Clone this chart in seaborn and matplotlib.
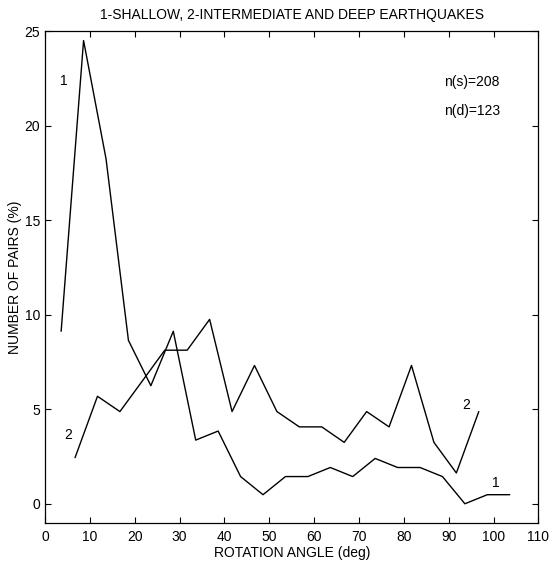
import matplotlib
matplotlib.use("Agg")
import matplotlib.pyplot as plt
import seaborn as sns
import pandas as pd

# Rotation-angle histograms (percent of pairs per 5-degree bin)
angle_shallow = [3.6, 8.6, 13.6, 18.6, 23.6, 28.6, 33.6, 38.6, 43.6, 48.6, 53.6,
                 58.6, 63.6, 68.6, 73.6, 78.6, 83.6, 88.6, 93.6, 98.6, 103.6]
pct_shallow = [9.13, 24.52, 18.27, 8.65, 6.25, 9.13, 3.37, 3.85, 1.44, 0.48, 1.44,
               1.44, 1.92, 1.44, 2.40, 1.92, 1.92, 1.44, 0.00, 0.48, 0.48]

angle_deep = [6.7, 11.7, 16.7, 21.7, 26.7, 31.7, 36.7, 41.7, 46.7, 51.7,
              56.7, 61.7, 66.7, 71.7, 76.7, 81.7, 86.7, 91.7, 96.7]
pct_deep = [2.44, 5.69, 4.88, 6.50, 8.13, 8.13, 9.76, 4.88, 7.32, 4.88,
            4.07, 4.07, 3.25, 4.88, 4.07, 7.32, 3.25, 1.63, 4.88]

x_ticks = [0, 10, 20, 30, 40, 50, 60, 70, 80, 90, 100, 110]
y_ticks = [0, 5, 10, 15, 20, 25]

sns.set_theme(style="ticks")
plt.rcParams["font.family"] = ["Liberation Sans", "DejaVu Sans"]
plt.rcParams["text.color"] = "black"
plt.rcParams["axes.labelcolor"] = "black"

FS = 10

fig = plt.figure(figsize=(5.5, 5.62), dpi=100)
ax = fig.add_axes([0.0818, 0.070, 0.8972, 0.874])

df_s = pd.DataFrame({"angle": angle_shallow, "pct": pct_shallow})
df_d = pd.DataFrame({"angle": angle_deep, "pct": pct_deep})
sns.lineplot(data=df_s, x="angle", y="pct", ax=ax, color="black", lw=1.0)
sns.lineplot(data=df_d, x="angle", y="pct", ax=ax, color="black", lw=1.0)

ax.set_xlim(0, 110)
ax.set_ylim(-1, 25)
ax.set_xticks(x_ticks)
ax.set_yticks(y_ticks)
ax.tick_params(direction="in", length=4, width=0.8, top=True, right=True,
               labelsize=FS, colors="black")
ax.tick_params(axis="x", pad=5)
ax.tick_params(axis="y", pad=3.5)
for s in ax.spines.values():
    s.set_color("black")
    s.set_linewidth(0.9)

ax.set_xlabel("ROTATION ANGLE (deg)", fontsize=FS, labelpad=2, color="black")
ax.set_ylabel("NUMBER OF PAIRS (%)", fontsize=FS, labelpad=1.5, color="black")
ax.set_title("1-SHALLOW, 2-INTERMEDIATE AND DEEP EARTHQUAKES", fontsize=FS, pad=9,
             color="black")

ax.text(4.1, 22.4, "1", fontsize=FS, ha="center", va="center")
ax.text(5.1, 3.65, "2", fontsize=FS, ha="center", va="center")
ax.text(94.0, 5.24, "2", fontsize=FS, ha="center", va="center")
ax.text(100.4, 1.1, "1", fontsize=FS, ha="center", va="center")
ax.text(88.9, 22.3, "n(s)=208", fontsize=FS, ha="left", va="center")
ax.text(88.9, 20.8, "n(d)=123", fontsize=FS, ha="left", va="center")

fig.savefig("out.png", dpi=100)
